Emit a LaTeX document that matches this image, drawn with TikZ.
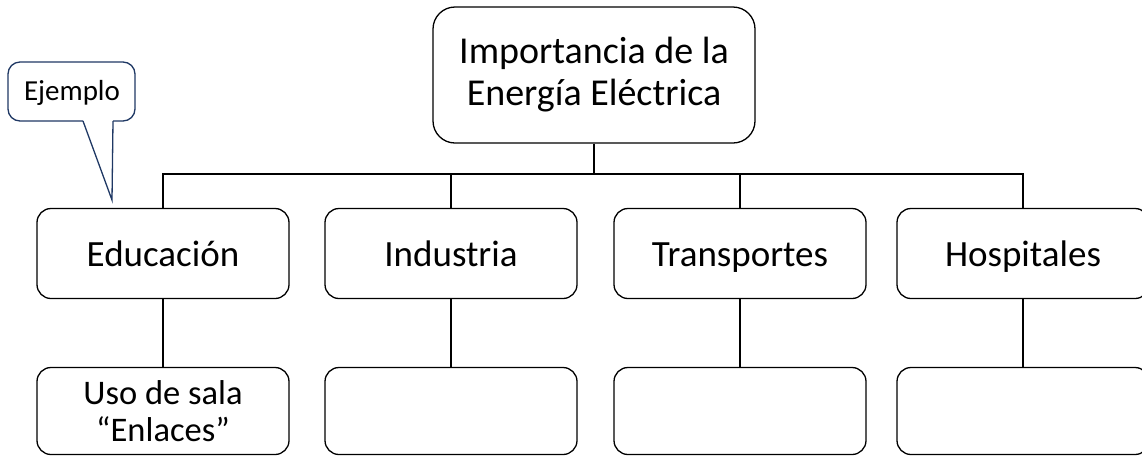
\documentclass[tikz,border=0pt]{standalone}
\usepackage{fontspec}
\setmainfont{Carlito}
\definecolor{navy}{HTML}{1F3864}
\begin{document}
\begin{tikzpicture}[x=1pt,y=-1pt,
  box/.style={draw=black, line width=1.3pt, rounded corners=14pt, minimum width=252pt, minimum height=90pt, inner sep=0pt, align=center, font=\fontsize{37}{42}\selectfont},
  one/.style={text height=30pt, text depth=4pt},
  topbox/.style={box, rounded corners=22pt, minimum width=322pt, minimum height=136pt, font=\fontsize{38}{42}\selectfont},
  low/.style={box, minimum height=87pt, font=\fontsize{34.5}{37}\selectfont},
  link/.style={draw=black, line width=1.3pt}]
\useasboundingbox (0,0) rectangle (1142,456);
\node[topbox] (top) at (594,75) {Importancia de la\\Energía Eléctrica};
\node[box,one] (edu) at (163,253.5) {Educación};
\node[box,one] (ind) at (451,253.5) {Industria};
\node[box,one] (tra) at (740,253.5) {Transportes};
\node[box,one] (hos) at (1023,253.5) {Hospitales};
\node[low] (edu2) at (163,411) {Uso de sala\\“Enlaces”};
\node[low] (ind2) at (451,411) {};
\node[low] (tra2) at (740,411) {};
\node[low] (hos2) at (1023,411) {};
\coordinate (bus) at (594,174);
\draw[link] (top.south) -- (bus);
\draw[link] (edu.north) |- (bus) -| (hos.north);
\draw[link] (ind.north) -- (ind.north |- bus);
\draw[link] (tra.north) -- (tra.north |- bus);
\draw[link] (edu.south) -- (edu2.north);
\draw[link] (ind.south) -- (ind2.north);
\draw[link] (tra.south) -- (tra2.north);
\draw[link] (hos.south) -- (hos2.north);
% callout
\coordinate (tip) at (112,200);
\draw[navy, line width=1.3pt, fill=white, rounded corners=12pt]
  (83,121) -- (8,121) -- (8,62) -- (135,62) -- (135,121) -- (113,121);
\draw[navy, line width=1.3pt, line join=miter] (83,121) -- (tip) -- (113,121);
\node[font=\fontsize{29}{32}\selectfont, inner sep=0pt] (ej) at (72,93) {Ejemplo};
\end{tikzpicture}
\end{document}
